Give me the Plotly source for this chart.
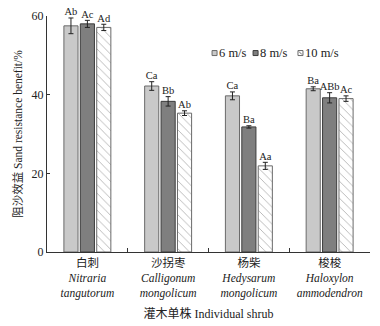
import plotly.graph_objects as go

categories = ["白刺<br><i>Nitraria</i><br><i>tangutorum</i>",
              "沙拐枣<br><i>Calligonum</i><br><i>mongolicum</i>",
              "杨柴<br><i>Hedysarum</i><br><i>mongolicum</i>",
              "梭梭<br><i>Haloxylon</i><br><i>ammodendron</i>"]
series_names = ["6 m/s", "8 m/s", "10 m/s"]
values_6 = [57.5, 42.2, 39.7, 41.5]
values_8 = [58.0, 38.3, 31.8, 39.2]
values_10 = [57.1, 35.3, 21.9, 39.0]
err_6 = [2.0, 1.1, 1.0, 0.5]
err_8 = [0.9, 1.2, 0.3, 1.3]
err_10 = [0.8, 0.6, 0.9, 0.7]
letters_6 = ["Ab", "Ca", "Ca", "Ba"]
letters_8 = ["Ac", "Bb", "Ba", "ABb"]
letters_10 = ["Ad", "Ab", "Aa", "Ac"]

values = [values_6, values_8, values_10]
errors = [err_6, err_8, err_10]
letters = [letters_6, letters_8, letters_10]

fills = ["#c9c9c9", "#7f7f7f", "#ffffff"]
borders = ["#6a6a6a", "#3c3c3c", "#6a6a6a"]

FONT = "Liberation Serif, Noto Sans CJK SC, serif"

fig = go.Figure()
for j in range(3):
    marker = dict(color=fills[j], line=dict(color=borders[j], width=1))
    if j == 2:
        marker["pattern"] = dict(shape="\\", fgcolor="#6a6a6a", bgcolor="#ffffff",
                                 size=6, solidity=0.15)
    fig.add_trace(go.Bar(
        x=categories, y=values[j], name=series_names[j], marker=marker,
        offsetgroup=str(j), showlegend=False,
        error_y=dict(type="data", array=errors[j], color="#222222",
                     thickness=1, width=2.5),
    ))
for j in range(3):
    tops = [v + e for v, e in zip(values[j], errors[j])]
    fig.add_trace(go.Scatter(
        x=categories, y=tops, mode="text", text=letters[j],
        textposition="top center", offsetgroup=str(j), showlegend=False,
        textfont=dict(family=FONT, size=10.5, color="#222222"),
        cliponaxis=False, hoverinfo="skip",
    ))

# compact legend (small swatches next to labels), in paper coordinates
legend_x = [0.511, 0.638, 0.777]
legend_y = 0.843
shapes = []
annotations = []
for j in range(3):
    shapes.append(dict(type="rect", xref="paper", yref="paper",
                       xsizemode="pixel", ysizemode="pixel",
                       xanchor=legend_x[j], yanchor=legend_y,
                       x0=0, x1=5, y0=-2.5, y1=2.5,
                       fillcolor=fills[j], line=dict(color=borders[j], width=1)))
    if j == 2:
        shapes.append(dict(type="line", xref="paper", yref="paper",
                           xsizemode="pixel", ysizemode="pixel",
                           xanchor=legend_x[j], yanchor=legend_y,
                           x0=1, x1=4, y0=1.5, y1=-1.5,
                           line=dict(color=borders[j], width=1)))
    annotations.append(dict(xref="paper", yref="paper", x=legend_x[j], y=legend_y,
                            xanchor="left", yanchor="middle", xshift=5,
                            text=series_names[j], showarrow=False,
                            font=dict(size=12.5, family=FONT, color="#222222")))

fig.update_layout(
    width=380, height=326,
    margin=dict(l=47, r=10, t=16, b=74, autoexpand=False),
    paper_bgcolor="white", plot_bgcolor="white",
    barmode="group", scattermode="group",
    bargap=0.39, bargroupgap=0.14,
    font=dict(family=FONT, size=11, color="#222222"),
    showlegend=False,
    shapes=shapes, annotations=annotations,
    xaxis=dict(
        showline=True, linecolor="#333333", linewidth=1,
        ticks="inside", tickson="boundaries", ticklen=4, tickcolor="#333333",
        showgrid=False, range=[-0.5, 3.5], tickangle=0, automargin=False,
        tickfont=dict(size=11.5),
        title=dict(text="灌木单株 Individual shrub", font=dict(size=12), standoff=10),
    ),
    yaxis=dict(
        range=[0, 60], tickvals=[0, 20, 40, 60],
        showline=True, linecolor="#333333", linewidth=1,
        ticks="inside", ticklen=3, tickcolor="#333333",
        showgrid=False, zeroline=False, automargin=False,
        tickfont=dict(size=12),
        title=dict(text="阻沙效益 Sand resistance benefit/%", font=dict(size=11.5), standoff=6),
    ),
)

fig.write_html("out.html",
               config={"displayModeBar": False},
               post_script="document.body.style.margin='0';document.body.style.overflow='hidden';")
